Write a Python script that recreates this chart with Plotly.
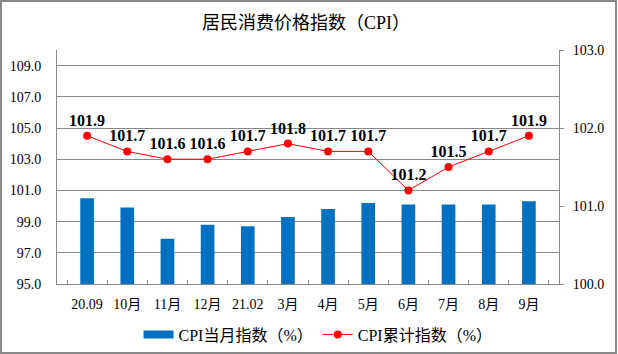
import plotly.graph_objects as go

categories = ["20.09", "10月", "11月", "12月", "21.02", "3月", "4月", "5月", "6月", "7月", "8月", "9月"]
monthly_cpi = [100.5, 99.9, 97.9, 98.8, 98.7, 99.3, 99.8, 100.2, 100.1, 100.1, 100.1, 100.3]
cumulative_cpi = [101.9, 101.7, 101.6, 101.6, 101.7, 101.8, 101.7, 101.7, 101.2, 101.5, 101.7, 101.9]
left_ticks = [95.0, 97.0, 99.0, 101.0, 103.0, 105.0, 107.0, 109.0]
right_ticks = [100.0, 101.0, 102.0, 103.0]

FONT = "Liberation Serif, Times New Roman, Noto Sans CJK SC, serif"
BLUE = "#0070C0"
RED = "#FF0000"

fig = go.Figure()
fig.add_trace(go.Bar(
    x=categories, y=monthly_cpi, name="CPI当月指数（%）",
    marker=dict(color=BLUE, line=dict(width=0)), width=0.34,
    yaxis="y", showlegend=False,
))
# legend entry drawn as a wide rectangle like the original
fig.add_trace(go.Scatter(
    x=[None], y=[None], name="CPI当月指数（%）", mode="lines",
    line=dict(color=BLUE, width=8), yaxis="y", hoverinfo="skip",
))
fig.add_trace(go.Scatter(
    x=categories, y=cumulative_cpi, name="CPI累计指数（%）",
    mode="lines+markers+text", yaxis="y2",
    line=dict(color=RED, width=1),
    marker=dict(color=RED, size=8),
    text=[f"{v:.1f}" for v in cumulative_cpi], textposition="top center",
    textfont=dict(family=FONT, size=16, color="black", weight="bold"),
    cliponaxis=False,
))

fig.update_layout(
    width=618, height=354,
    margin=dict(l=57, r=59, t=50, b=70),
    paper_bgcolor="white", plot_bgcolor="white",
    font=dict(family=FONT, size=13, color="black"),
    title=dict(text="居民消费价格指数（CPI）", x=0.495, xanchor="center", y=0.937, yanchor="middle",
               font=dict(family=FONT, size=18, color="black")),
    showlegend=True,
    legend=dict(orientation="h", x=0.52, xanchor="center", yref="container", y=0.055, yanchor="middle",
                font=dict(family=FONT, size=16), itemwidth=30, tracegroupgap=0),
    bargap=0.66,
    xaxis=dict(type="category", showline=True, linecolor="#888888", linewidth=1,
               ticks="inside", ticklen=4, tickcolor="#888888", tickson="boundaries",
               showgrid=False, tickfont=dict(size=14), ticklabelstandoff=7,
               tickangle=0, automargin=False),
    yaxis=dict(range=[95, 110], tickvals=left_ticks, ticktext=[f"{v:.1f}" for v in left_ticks],
               showgrid=True, gridcolor="#888888", gridwidth=1, showline=True,
               linecolor="#888888", linewidth=1, ticks="", zeroline=False,
               tickfont=dict(size=14), ticklabelstandoff=12, automargin=False),
    yaxis2=dict(range=[100, 103], tickvals=right_ticks, ticktext=[f"{v:.1f}" for v in right_ticks],
                overlaying="y", side="right", showgrid=False, showline=True,
                linecolor="#888888", linewidth=1, ticks="outside", ticklen=4,
                tickcolor="#888888", zeroline=False, tickfont=dict(size=14),
                ticklabelstandoff=6, automargin=False),
)
fig.add_shape(type="rect", xref="paper", yref="paper", x0=-56/502, x1=1+57/502,
              y0=-69/234, y1=1+49/234, line=dict(color="#888888", width=2), layer="below")

fig.write_html("out.html")
